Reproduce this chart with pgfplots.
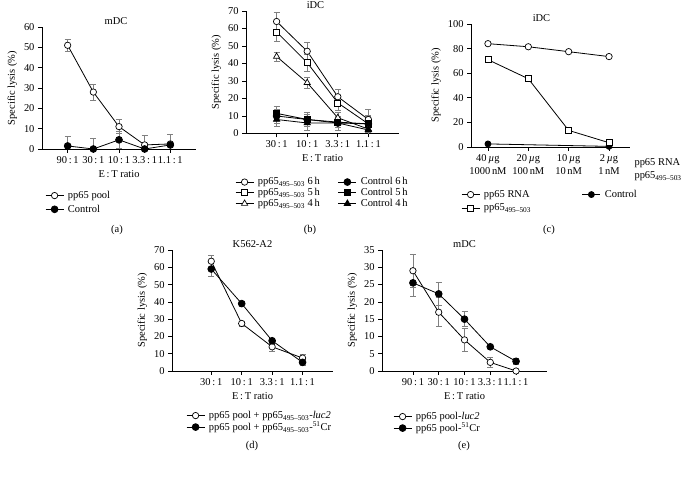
\documentclass[border=0pt]{standalone}
\usepackage{pgfplots}
\pgfplotsset{compat=1.18}
\usepackage{fontspec}
\setmainfont{Liberation Serif}
\newcommand{\fsz}{\fontsize{10.5}{12}\selectfont}
\newcommand{\rt}[2]{#1\,:\,#2}
\newcommand{\pep}{pp65\textsubscript{495–503}}
\pgfplotsset{
  panel/.style={
    scale only axis,
    axis x line*=bottom, axis y line*=left,
    tick align=outside,
    major tick length=4bp,
    tick style={black, line width=0.7bp},
    axis line style={black, line width=0.7bp},
    /pgf/number format/assume math mode=true,
    ticklabel style={font=\fsz},
    label style={font=\fsz},
    title style={font=\fsz, at={(0.5,1)}, anchor=center},
    xlabel={E\,:\,T ratio},
    ylabel={Specific lysis (\%)},
    ymin=0,
    legend cell align=left,
    legend image code/.code={\draw[black, line width=0.8bp] (0bp,0bp) -- (18bp,0bp);
      \draw plot[only marks] coordinates {(9bp,0bp)};
      \path (-1bp,0bp) (21bp,0bp);},
    legend style={draw=none, fill=none, font=\fsz, at={(0,0)}, anchor=north west,
      nodes={inner sep=1bp}},
    every axis plot/.append style={black, line width=0.8bp},
    error bars/error bar style={gray, line width=0.6bp},
    error bars/error mark options={rotate=90, mark size=3bp, gray, line width=0.6bp},
  },
  eb/.style={error bars/.cd, y dir=both, y explicit},
  oc/.style={mark=*, mark size=3.2bp, mark options={fill=white, solid, line width=0.7bp}},
  fc/.style={mark=*, mark size=3.4bp, mark options={fill=black, solid}},
  os/.style={mark=square*, mark size=3bp, mark options={fill=white, solid, line width=0.7bp}},
  fs/.style={mark=square*, mark size=3bp, mark options={fill=black, solid}},
  ot/.style={mark=triangle*, mark size=3.6bp, mark options={fill=white, solid, line width=0.7bp}},
  ft/.style={mark=triangle*, mark size=3.6bp, mark options={fill=black, solid}},
}
\begin{document}
\begin{tikzpicture}
\useasboundingbox (0,0) rectangle (687bp,477bp);

% ---------- (a)
\begin{axis}[panel, at={(42bp,328bp)}, anchor=south west, width=154bp, height=122bp,
  xmin=-1, xmax=5, ymax=60, ytick={0,10,...,60},
  xtick={0,...,4}, xticklabels={\rt{90}{1},\rt{30}{1},\rt{10}{1},\rt{3.3}{1},\rt{1.1}{1}},
  title={mDC}, title style={xshift=-3bp},
  legend style={xshift=-1bp, yshift=-39bp, row sep=3bp}]
\addplot[oc, eb] coordinates {(0,51) +- (0,3) (1,28) +- (0,4) (2,11) +- (0,3.5) (3,2) +- (0,4.5) (4,2.5) +- (0,4.5)};
\addlegendentry{pp65 pool}
\addplot[fc, eb] coordinates {(0,1.5) +- (0,4.5) (1,0) +- (0,5.3) (2,4.5) +- (0,4) (3,0) +- (0,1) (4,2) +- (0,5)};
\addlegendentry{Control}
\end{axis}

% ---------- (b)
\begin{axis}[panel, at={(246bp,343.5bp)}, anchor=south west, width=153bp, height=122.5bp,
  xmin=-1, xmax=4, ymax=70, ytick={0,10,...,70},
  xtick={0,...,3}, xticklabels={\rt{30}{1},\rt{10}{1},\rt{3.3}{1},\rt{1.1}{1}},
  title={iDC}, title style={xshift=-7bp},
  legend columns=2,
  legend style={xshift=-15bp, yshift=-41bp, row sep=0bp}]
\addplot[oc, eb] coordinates {(0,64) +- (0,5.5) (1,47) +- (0,5) (2,21) +- (0,4) (3,8) +- (0,6)};
\addlegendentry{\makebox[78bp][l]{\pep\ 6\,h}}
\addplot[fc, eb] coordinates {(0,10) +- (0,4) (1,8) +- (0,4) (2,6) +- (0,4) (3,5.5) +- (0,4.5)};
\addlegendentry{Control 6\,h}
\addplot[os, eb] coordinates {(0,58) +- (0,5.5) (1,40.5) +- (0,5) (2,17.5) +- (0,4) (3,5.5) +- (0,5)};
\addlegendentry{\makebox[78bp][l]{\pep\ 5\,h}}
\addplot[fs, eb] coordinates {(0,11.5) +- (0,4) (1,8) +- (0,3) (2,6.5) +- (0,3) (3,5.5) +- (0,3)};
\addlegendentry{Control 5\,h}
\addplot[ot, eb] coordinates {(0,44) +- (0,2.5) (1,29) +- (0,3) (2,9) +- (0,3) (3,2.5) +- (0,3)};
\addlegendentry{\makebox[78bp][l]{\pep\ 4\,h}}
\addplot[ft, eb] coordinates {(0,8) +- (0,4) (1,6) +- (0,4) (2,6) +- (0,4) (3,2) +- (0,3)};
\addlegendentry{Control 4\,h}
\end{axis}

% ---------- (c)
\begin{axis}[panel, at={(471bp,330bp)}, anchor=south west, width=159bp, height=123bp,
  xmin=-0.42, xmax=3.52, ymax=100, ytick={0,20,...,100},
  xtick={0,...,3},
  xticklabels={{40\,\textit{µ}g\\1000\,nM},{20\,\textit{µ}g\\100\,nM},{10\,\textit{µ}g\\10\,nM},{2\,\textit{µ}g\\1\,nM}},
  x tick label style={align=center, font=\fontsize{10.5}{13.5}\selectfont},
  xlabel={},
  title={iDC}, title style={xshift=-9bp},
  legend columns=2,
  legend style={xshift=-14bp, yshift=-40bp, row sep=3bp}]
\addplot[oc] coordinates {(0,84) (1,81.5) (2,77.5) (3,73.5)};
\addlegendentry{\makebox[96bp][l]{pp65 RNA}}
\addplot[fc, mark size=3bp] coordinates {(0,2.5) (3,0.5)};
\addlegendentry{Control}
\addplot[os] coordinates {(0,71) (1,55.5) (2,13.5) (3,3.5)};
\addlegendentry{\pep}
\end{axis}
\node[anchor=base west, font=\fsz] at (631bp,311.5bp) {pp65 RNA};
\node[anchor=base west, font=\fsz] at (631bp,298bp) {\pep};

% ---------- (d)
\begin{axis}[panel, at={(172bp,106bp)}, anchor=south west, width=161bp, height=121bp,
  xmin=-1.29, xmax=4, ymax=70, ytick={0,10,...,70},
  xtick={0,...,3}, xticklabels={\rt{30}{1},\rt{10}{1},\rt{3.3}{1},\rt{1.1}{1}},
  title={K562-A2},
  legend style={xshift=10bp, yshift=-37bp, row sep=0bp}]
\addplot[oc, eb] coordinates {(0,63.5) +- (0,3.5) (1,27.5) +- (0,1.5) (2,14) +- (0,2.5) (3,7.5) +- (0,2)};
\addlegendentry{pp65 pool + \pep-\textit{luc2}}
\addplot[fc, eb] coordinates {(0,59) +- (0,4) (1,39) +- (0,1.5) (2,17.5) +- (0,1.5) (3,5) +- (0,1.5)};
\addlegendentry{pp65 pool + \pep-\textsuperscript{51}Cr}
\end{axis}

% ---------- (e)
\begin{axis}[panel, at={(382bp,106bp)}, anchor=south west, width=165bp, height=121bp,
  xmin=-1.2, xmax=5.2, ymax=35, ytick={0,5,...,35},
  xtick={0,...,4}, xticklabels={\rt{90}{1},\rt{30}{1},\rt{10}{1},\rt{3.3}{1},\rt{1.1}{1}},
  title={mDC},
  legend style={xshift=7bp, yshift=-38bp, row sep=0bp}]
\addplot[oc, eb] coordinates {(0,29) +- (0,4.8) (1,17) +- (0,4.2) (2,9) +- (0,3.3) (3,2.5) +- (0,1.5) (4,0) +- (0,0.3)};
\addlegendentry{pp65 pool-\textit{luc2}}
\addplot[fc, eb] coordinates {(0,25.5) +- (0,4) (1,22.3) +- (0,3.3) (2,15) +- (0,2.2) (3,7) +- (0,0.5) (4,2.8) +- (0,1)};
\addlegendentry{pp65 pool-\textsuperscript{51}Cr}
\end{axis}

\node[font=\fsz] at (117bp,247bp) {(a)};
\node[font=\fsz] at (310bp,247bp) {(b)};
\node[font=\fsz] at (549bp,247bp) {(c)};
\node[font=\fsz] at (252bp,31bp) {(d)};
\node[font=\fsz] at (464bp,31bp) {(e)};
\end{tikzpicture}
\end{document}
